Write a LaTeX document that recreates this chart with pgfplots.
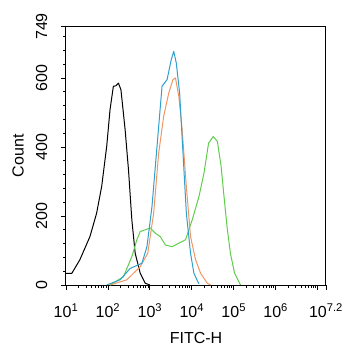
\documentclass[border=0pt]{standalone}
\usepackage{fontspec}
\setmainfont{Liberation Sans}
\usepackage{pgfplots}
\pgfplotsset{compat=1.18}
\definecolor{cblue}{RGB}{45,160,205}
\definecolor{corange}{RGB}{240,150,100}
\definecolor{cgreen}{RGB}{95,205,75}
\begin{document}
\begin{tikzpicture}
\begin{axis}[
 at={(0,0)}, anchor=south west,
 scale only axis, width=260bp, height=258.5bp,
 xmin=1, xmax=7.2, ymin=0, ymax=749,
 /pgf/number format/assume math mode=true,
 axis line style={line width=1bp},
 tick style={black, line width=0.8bp},
 tick align=outside,
 xtick pos=bottom, ytick pos=left,
 major tick length=4.5bp, minor tick length=2.5bp,
 xtick={1,2,3,4,5,6,7,7.2},
 xticklabels={10\textsuperscript{1},10\textsuperscript{2},10\textsuperscript{3},10\textsuperscript{4},10\textsuperscript{5},10\textsuperscript{6},,10\textsuperscript{7.2}},
 minor xtick={1.30103,1.47712,1.60206,1.69897,1.77815,1.84510,1.90309,1.95424,
 2.30103,2.47712,2.60206,2.69897,2.77815,2.84510,2.90309,2.95424,
 3.30103,3.47712,3.60206,3.69897,3.77815,3.84510,3.90309,3.95424,
 4.30103,4.47712,4.60206,4.69897,4.77815,4.84510,4.90309,4.95424,
 5.30103,5.47712,5.60206,5.69897,5.77815,5.84510,5.90309,5.95424,
 6.30103,6.47712,6.60206,6.69897,6.77815,6.84510,6.90309,6.95424},
 ytick={0,200,400,600,749},
 yticklabels={0,200,400,600,749},
 minor ytick={40,80,120,160,240,280,320,360,440,480,520,560,640,680,720},
 ticklabel style={font=\fontsize{16bp}{19bp}\selectfont},
 xticklabel style={anchor=base, inner sep=0pt, yshift=-28bp},
 yticklabel style={rotate=90, anchor=south, inner sep=0pt, yshift=14bp},
 xlabel={FITC-H}, ylabel={Count},
 label style={font=\fontsize{16bp}{19bp}\selectfont},
 xlabel style={at={(axis description cs:0.5,0)}, anchor=base, yshift=-58bp, inner sep=0pt},
 ylabel style={at={(axis description cs:0,0.5)}, anchor=center, yshift=48bp, inner sep=0pt},
 every axis plot/.append style={line width=1bp, line join=round},
]
\addplot[black] table {
1.00 34
1.14 34
1.33 73
1.57 140
1.73 208
1.85 285
1.97 401
2.05 508
2.13 576
2.19 577
2.25 585
2.31 566
2.41 450
2.49 334
2.57 189
2.65 92
2.77 34
2.89 5
3.00 0
};
\addplot[cgreen] table {
2.05 0
2.37 24
2.57 82
2.69 131
2.77 155
2.89 160
3.01 165
3.13 150
3.25 140
3.37 116
3.53 111
3.69 121
3.85 131
4.01 189
4.17 256
4.29 324
4.40 411
4.51 430
4.61 416
4.70 343
4.76 266
4.84 169
4.92 92
5.02 34
5.16 0
};
\addplot[corange] table {
2.05 0
2.45 15
2.77 53
2.95 92
3.09 208
3.21 382
3.33 489
3.45 556
3.55 595
3.61 600
3.69 547
3.77 450
3.87 285
3.97 140
4.09 73
4.21 34
4.37 5
4.45 0
};
\addplot[cblue] table {
1.97 0
2.29 15
2.53 48
2.81 63
2.93 111
3.05 227
3.17 401
3.29 576
3.41 595
3.51 653
3.57 677
3.63 643
3.71 556
3.79 382
3.87 208
3.97 92
4.05 34
4.17 3
};
\end{axis}
\pgfresetboundingbox
\path (-66bp,-65bp) rectangle (276bp,285bp);
\end{tikzpicture}
\end{document}
